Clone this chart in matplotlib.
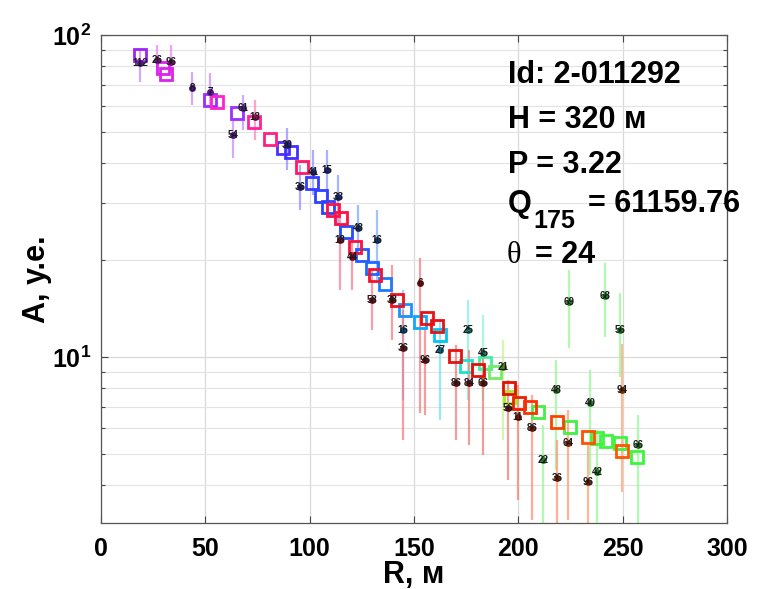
import numpy as np
import matplotlib
matplotlib.use("Agg")
import matplotlib.pyplot as plt
from matplotlib.colors import LinearSegmentedColormap, to_rgb
from matplotlib.ticker import FixedLocator, FuncFormatter, NullFormatter

plt.rcParams['font.family'] = ['Liberation Sans', 'DejaVu Sans']
plt.rcParams['font.weight'] = 'bold'
plt.rcParams['mathtext.fontset'] = 'custom'
plt.rcParams['mathtext.rm'] = 'Liberation Sans:bold'
plt.rcParams['mathtext.bf'] = 'Liberation Sans:bold'
plt.rcParams['mathtext.it'] = 'Liberation Sans:bold'

# Mean amplitude vs. distance, first station group
r_a = [18.7, 52.2, 65.2, 87.2, 91.1, 101.1, 105.4, 108.8, 117.4, 125.1, 129.9,
       136.1, 145.7, 152.9, 162.5, 174.9, 184.0, 188.8, 196.0, 209.4, 224.8,
       237.7, 242.0, 248.7, 256.9]
a_a = [86.7, 62.8, 57.3, 44.6, 43.3, 34.7, 31.6, 29.2, 24.5, 20.7, 18.9,
       16.8, 14.0, 12.8, 11.7, 9.4, 9.6, 9.0, 7.5, 6.75, 6.06,
       5.6, 5.5, 5.4, 4.9]

# Mean amplitude vs. distance, second station group
r_b = [29.7, 31.0, 55.6, 73.3, 81.0, 96.3, 111.2, 115.0, 121.7, 131.3, 141.8,
       156.0, 161.0, 169.6, 180.7, 195.5, 200.3, 205.6, 218.5, 233.4, 249.7]
a_b = [79.0, 75.5, 62.0, 53.7, 47.5, 38.9, 28.6, 27.0, 22.0, 18.0, 15.0,
       13.2, 12.5, 10.1, 9.1, 8.0, 7.2, 7.0, 6.3, 5.64, 5.1]

# Individual detectors: distance, amplitude, error range, number, group
det_r = [18.7, 26.8, 33.5, 43.6, 52.2, 63.3, 68.0, 73.8, 89.1, 95.4, 101.6,
         108.3, 113.6, 114.5, 120.3, 123.2, 132.3, 129.9, 139.5, 144.7, 144.7,
         152.9, 155.3, 162.5, 175.9, 183.1, 170.0, 176.5, 183.0, 192.6, 195.0,
         199.8, 206.6, 218.1, 234.4, 249.7, 257.4, 223.8, 211.8, 218.5, 233.4,
         237.7, 224.3, 241.5, 248.7]
det_a = [81.8, 83.6, 82.4, 68.4, 66.5, 48.9, 59.3, 55.6, 45.5, 33.7, 37.6,
         38.1, 31.4, 23.1, 20.5, 25.2, 23.1, 15.0, 15.0, 12.1, 10.7,
         17.0, 9.79, 10.5, 12.1, 10.3, 8.30, 8.30, 8.30, 9.31, 6.95,
         6.51, 6.02, 7.91, 7.20, 7.91, 5.33, 5.40, 4.79, 4.21, 4.09,
         4.39, 14.8, 15.5, 12.1]
det_lo = [71.4, 75.1, 76.2, 60.6, 59.3, 41.5, 50.7, 47.2, 38.1, 28.6, 31.8,
          30.7, 25.7, 16.1, 16.1, 20.7, 17.4, 12.1, 11.3, 7.35, 5.52,
          6.70, 6.61, 6.37, 7.35, 7.35, 5.52, 5.33, 4.96, 5.52, 4.15,
          3.60, 3.12, 4.46, 4.30, 3.80, 3.05, 3.12, 3.05, 3.05, 3.05,
          3.05, 10.7, 11.5, 8.67]
det_hi = [89.8, 93.1, 93.1, 76.7, 76.2, 54.5, 65.2, 62.8, 51.4, 39.5, 43.9,
          43.9, 36.8, 27.6, 23.9, 29.7, 28.6, 18.6, 19.3, 16.1, 14.0,
          20.3, 12.1, 13.0, 15.0, 13.5, 10.9, 10.5, 10.5, 11.3, 8.49,
          8.18, 7.63, 9.79, 9.12, 11.0, 6.61, 6.84, 6.15, 5.52, 5.33,
          5.93, 18.6, 19.6, 15.8]
det_id = ['112', '26', '96', '8', '7', '54', '61', '13', '30', '36', '41',
          '15', '33', '18', '44', '48', '16', '58', '38', '16', '36',
          '6', '96', '27', '25', '45', '86', '84', '66', '21', '56',
          '11', '86', '48', '40', '94', '66', '64', '22', '36', '96',
          '42', '69', '68', '56']
det_grp = ['a', 'b', 'b', 'a', 'a', 'a', 'a', 'b', 'a', 'a', 'a',
           'a', 'a', 'b', 'b', 'a', 'a', 'b', 'b', 'a', 'b',
           'b', 'b', 'a', 'a', 'a', 'b', 'b', 'b', 'a', 'b',
           'b', 'b', 'a', 'a', 'b', 'a', 'b', 'a', 'b', 'b',
           'a', 'a', 'a', 'a']

# Colour ramps along distance for the two groups
ramp_a = LinearSegmentedColormap.from_list('ramp_a', [
    (0.00, '#a020f0'), (0.22, '#9b30ff'), (0.30, '#4030ff'), (0.40, '#2050ff'),
    (0.48, '#1e8cff'), (0.55, '#00ccee'), (0.61, '#30f0b8'), (0.65, '#b0e820'),
    (0.70, '#44ee44'), (1.00, '#33ff33')])
ramp_b = LinearSegmentedColormap.from_list('ramp_b', [
    (0.00, '#c020ff'), (0.10, '#dd22ee'), (0.19, '#ff22cc'), (0.27, '#ff2080'),
    (0.37, '#ff1048'), (0.47, '#ee1122'), (0.65, '#dd1100'), (0.69, '#ff3300'),
    (0.77, '#ff5000'), (1.00, '#ff6a00')])
ramps = {'a': ramp_a, 'b': ramp_b}


def lighten(c, f):
    c = np.array(to_rgb(c))
    return tuple(c + (1 - c) * f)


def darken(c, f):
    return tuple(np.array(to_rgb(c)) * f)


fig = plt.figure(figsize=(7.61, 5.89), dpi=100)
ax = fig.add_axes([101 / 761, 1 - 523 / 589, 626 / 761, 488 / 589])
ax.set_yscale('log')
ax.set_xlim(0, 300)
ax.set_ylim(3.05, 100)

# Detector error bars
for r, lo, hi, g in zip(det_r, det_lo, det_hi, det_grp):
    col = lighten(ramps[g](r / 300), 0.45)
    ax.plot([r, r], [lo, hi], color=col, lw=1.6, alpha=0.75, zorder=1,
            solid_capstyle='butt')

# Group mean squares
for rr, aa, g in ((r_a, a_a, 'a'), (r_b, a_b, 'b')):
    for r, a in zip(rr, aa):
        ax.plot(r, a, marker='s', ms=9, mfc='none', mew=2.0,
                mec=ramps[g](r / 300), zorder=3)

# Detector points with numbers
for r, a, s, g in zip(det_r, det_a, det_id, det_grp):
    ax.plot(r, a, marker='o', ms=5, color=darken(ramps[g](r / 300), 0.55),
            mec='none', zorder=4)
    ax.text(r, a, s, fontsize=7, fontweight='bold', color='#1a1a1a',
            ha='center', va='center', zorder=5)

# Axes styling
ax.xaxis.set_major_locator(FixedLocator([0, 50, 100, 150, 200, 250, 300]))
ax.yaxis.set_major_locator(FixedLocator([10, 100]))
ax.yaxis.set_minor_locator(FixedLocator([4, 5, 6, 7, 8, 9, 20, 30, 40, 50, 60, 70, 80, 90]))
ax.yaxis.set_minor_formatter(NullFormatter())
ax.yaxis.set_major_formatter(FuncFormatter(
    lambda v, p: r'$\mathbf{10^{%d}}$' % round(np.log10(v))))
ax.tick_params(which='both', direction='in', top=True, right=True,
               colors='#444444', labelcolor='black', labelsize=18)
ax.tick_params(which='major', length=5, width=0.8)
ax.tick_params(which='minor', length=3, width=0.8)
ax.tick_params(axis='x', pad=10)
ax.tick_params(axis='y', pad=7)
for lab in ax.get_xticklabels() + ax.get_yticklabels():
    lab.set_fontweight('bold')
for sp in ax.spines.values():
    sp.set_color('#555555')
    sp.set_linewidth(0.9)
ax.grid(True, which='major', color='#d9d9d9', lw=0.9)
ax.grid(True, which='minor', axis='y', color='#e3e3e3', lw=0.8)
ax.set_axisbelow(True)

ax.set_xlabel('R, м', fontsize=22, fontweight='bold')
ax.xaxis.set_label_coords(0.5, -0.075)
ax.set_ylabel('A, у.е.', fontsize=22, fontweight='bold')
ax.yaxis.set_label_coords(-0.078, 0.5)

# Event parameters
W, H = 761, 589


def put(x, y, s, **kw):
    kw.setdefault('fontsize', 22)
    kw.setdefault('fontweight', 'bold')
    fig.text(x / W, 1 - y / H, s, va='baseline', ha='left', **kw)


put(508, 83, 'Id: 2-011292')
put(508, 128, 'H = 320 м')
put(508, 173, 'P = 3.22')
put(508, 212, 'Q')
put(533, 228, '175', fontsize=18)
put(588, 212, '= 61159.76')
put(507, 263, 'θ', family=['Liberation Serif', 'DejaVu Serif'], fontweight='normal')
put(535, 263, '= 24')

fig.savefig('out.png', dpi=100)
